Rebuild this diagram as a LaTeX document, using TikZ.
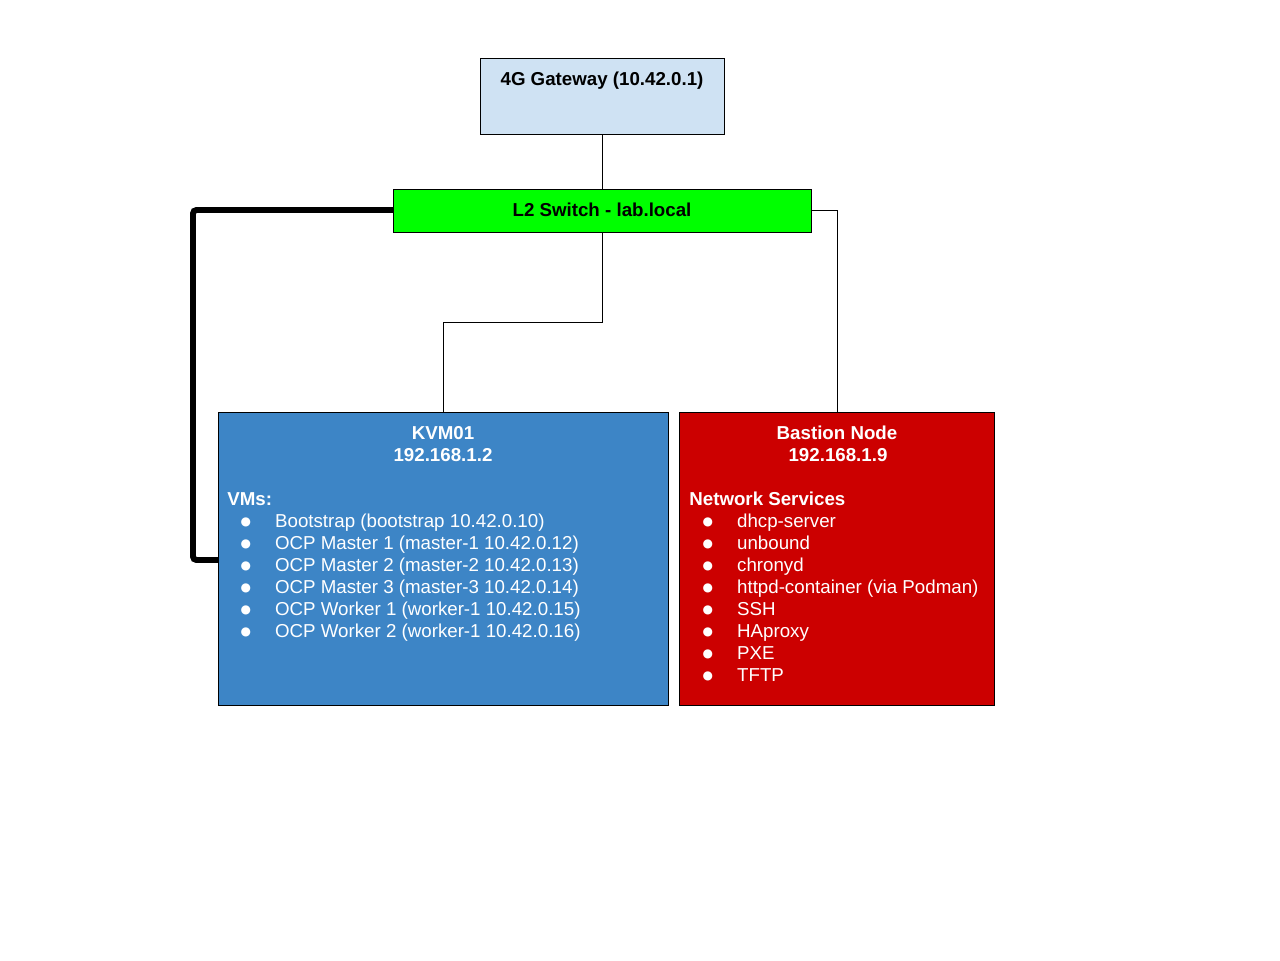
\documentclass[tikz,border=0pt]{standalone}
\usepackage{fontspec}
\setmainfont{Liberation Sans}
\newfontfamily\dejavu{DejaVu Sans}
\definecolor{gwblue}{HTML}{CFE2F3}
\definecolor{swgreen}{HTML}{00FF00}
\definecolor{kvmblue}{HTML}{3D85C6}
\definecolor{bastred}{HTML}{CC0000}
\newcommand{\bul}{\makebox[27.2pt][l]{\hspace{7.6pt}\raisebox{0.6pt}{\dejavu\fontsize{6.8}{6.8}\selectfont ●}}}
\tikzset{
  box/.style={draw=black, line width=0.5pt, inner sep=0pt},
  wire/.style={draw=black, line width=0.5pt},
  thickwire/.style={draw=black, line width=3.4pt, rounded corners=2pt},
  ttl/.style={font=\fontsize{10.65}{12.5}\selectfont\bfseries, inner sep=0pt, anchor=base},
  itm/.style={font=\fontsize{10.65}{12.5}\selectfont, inner sep=0pt, anchor=base west, text=white},
}
\begin{document}
\begin{tikzpicture}[x=0.02cm, y=-0.02cm]
\useasboundingbox (0,0) rectangle (1280,960);
% boxes
\path[box, fill=gwblue] (480,58) rectangle (724,134);
\coordinate (gwS) at (602,134);
\path[box, fill=swgreen] (393,189) rectangle (811,232);
\coordinate (swN) at (602,189);
\coordinate (swS) at (602,232);
\coordinate (swE) at (811,210);
\coordinate (swW) at (393,210);
\path[box, fill=kvmblue] (218,412) rectangle (668,705);
\coordinate (kvmN) at (443,412);
\coordinate (kvmW) at (218,560);
\path[box, fill=bastred] (679,412) rectangle (994,705);
\coordinate (basN) at (837,412);
% connectors
\draw[wire] (gwS) -- (swN);
\draw[wire] (swS) -- (602,322) -- (443,322) -- (kvmN);
\draw[wire] (swE) -- (837,210) -- (basN);
\draw[thickwire] (swW) -- (193,210) -- (193,560) -- (kvmW);
% texts
\node[ttl] (gwt) at (602,85) {4G Gateway (10.42.0.1)};
\node[ttl] (swt) at (602,216) {L2 Switch - lab.local};
\node[ttl, text=white] (kt1) at (443,439) {KVM01};
\node[ttl, text=white] (kt2) at (443,461) {192.168.1.2};
\node[itm, font=\fontsize{10.65}{12.5}\selectfont\bfseries] (kh) at (227,505) {VMs:};
\foreach \t [count=\i] in {Bootstrap (bootstrap 10.42.0.10),OCP Master 1 (master-1 10.42.0.12),OCP Master 2 (master-2 10.42.0.13),OCP Master 3 (master-3 10.42.0.14),OCP Worker 1 (worker-1 10.42.0.15),OCP Worker 2 (worker-1 10.42.0.16)}
  \node[itm] (k\i) at (227,{505+22*\i}) {\bul\t};
\node[ttl, text=white] (bt1) at (837,439) {Bastion Node};
\node[ttl, text=white] (bt2) at (838,461) {192.168.1.9};
\node[itm, font=\fontsize{10.65}{12.5}\selectfont\bfseries] (bh) at (689,505) {Network Services};
\foreach \t [count=\i] in {dhcp-server,unbound,chronyd,httpd-container (via Podman),SSH,HAproxy,PXE,TFTP}
  \node[itm] (b\i) at (689,{505+22*\i}) {\bul\t};
\end{tikzpicture}
\end{document}
